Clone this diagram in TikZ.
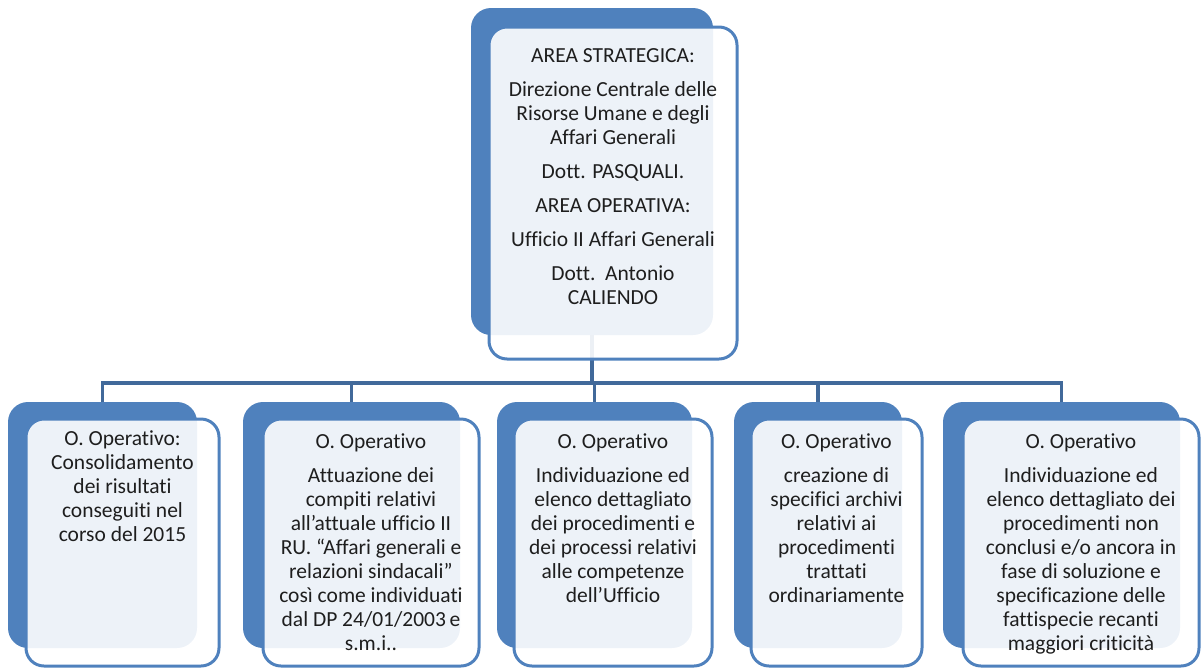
\documentclass[tikz,border=0pt]{standalone}
\usepackage{fontspec}
\setmainfont{Carlito}[Ligatures={NoCommon}]
\definecolor{backblue}{HTML}{4F81BD}
\definecolor{lineblue}{HTML}{41699A}
\definecolor{txt}{HTML}{1E1E1E}
\begin{document}
\begin{tikzpicture}[x=1pt,y=-1pt,
  backbox/.style={rectangle,rounded corners=20pt,fill=backblue,draw=none,inner sep=0pt,outer sep=0pt},
  frontbox/.style={rectangle,rounded corners=18pt,draw=backblue,line width=3pt,fill=white,fill opacity=0.9,inner sep=0pt,outer sep=0pt},
  label/.style={anchor=north,align=center,inner sep=0pt,text=txt,font=\fontsize{21.5}{24}\selectfont},
  conn/.style={draw=lineblue,line width=3.5pt}]
\useasboundingbox (0,0) rectangle (1202,670);
% back shapes
\node[backbox,minimum width=242pt,minimum height=327pt] (tb) at (592,171.5) {};
\node[backbox,minimum width=189pt,minimum height=246pt] (b1) at (102.5,525) {};
\node[backbox,minimum width=217pt,minimum height=246pt] (b2) at (351.5,525) {};
\node[backbox,minimum width=195pt,minimum height=246pt] (b3) at (594.5,525) {};
\node[backbox,minimum width=168pt,minimum height=246pt] (b4) at (818,525) {};
\node[backbox,minimum width=237pt,minimum height=246pt] (b5) at (1061.5,525) {};
% connectors
\coordinate (bus) at (0,383);
\draw[conn] (tb.south) -- (tb.south |- bus);
\draw[conn] (b1.north) -- (b1.north |- bus) -- (b5.north |- bus) -- (b5.north);
\draw[conn] (b2.north |- bus) -- (b2.north);
\draw[conn] (b3.north |- bus) -- (b3.north);
\draw[conn] (b4.north |- bus) -- (b4.north);
% front shapes
\node[frontbox,minimum width=248pt,minimum height=332pt] (tf) at (613,193) {};
\node[frontbox,minimum width=193pt,minimum height=247pt] (f1) at (122.5,542.5) {};
\node[frontbox,minimum width=216pt,minimum height=247pt] (f2) at (371,542.5) {};
\node[frontbox,minimum width=198pt,minimum height=247pt] (f3) at (613,542.5) {};
\node[frontbox,minimum width=171pt,minimum height=247pt] (f4) at (836.5,542.5) {};
\node[frontbox,minimum width=236pt,minimum height=247pt] (f5) at (1081,542.5) {};
% texts
\node[label] (t0) at (613,48) {AREA STRATEGICA:\\[10pt]
Direzione Centrale delle\\Risorse Umane e degli\\Affari Generali\\[10pt]
Dott. PASQUALI.\\[10pt]
AREA OPERATIVA:\\[10pt]
Ufficio II Affari Generali\\[10pt]
Dott.\ \ Antonio\\CALIENDO};
\node[label] (t1) at (122.5,430) {O. Operativo:\\Consolidamento\\dei risultati\\conseguiti nel\\corso del 2015};
\node[label] (t2) at (371,433) {O. Operativo\\[10pt]
Attuazione dei\\compiti relativi\\all’attuale ufficio II\\RU. “Affari generali e\\relazioni sindacali”\\così come individuati\\dal DP 24/01/2003\,e\\s.m.i..};
\node[label] (t3) at (613,433) {O. Operativo\\[10pt]
Individuazione ed\\elenco dettagliato\\dei procedimenti e\\dei processi relativi\\alle competenze\\dell’Ufficio};
\node[label] (t4) at (836.5,433) {O. Operativo\\[10pt]
creazione di\\specifici archivi\\relativi ai\\procedimenti\\trattati\\ordinariamente};
\node[label] (t5) at (1081,433) {O. Operativo\\[10pt]
Individuazione ed\\elenco dettagliato dei\\procedimenti non\\conclusi e/o ancora in\\fase di soluzione e\\specificazione delle\\fattispecie recanti\\maggiori criticità};
\end{tikzpicture}
\end{document}
